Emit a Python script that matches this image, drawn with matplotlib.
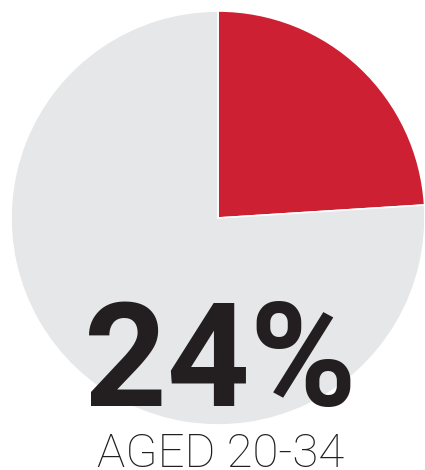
import matplotlib
matplotlib.use("Agg")
import matplotlib.pyplot as plt

# Data
labels = ["Aged 20-34", "Other"]
shares = [24, 76]
colors = ["#CE2033", "#E6E7E9"]
big_label = "24%"
caption = "AGED 20-34"

W, H = 425, 470
fig = plt.figure(figsize=(W / 100, H / 100), dpi=100)
ax = fig.add_axes([0, 0, 1, 1])
ax.set_xlim(0, W)
ax.set_ylim(0, H)
ax.axis("off")

ax.pie(shares, colors=colors, startangle=90, counterclock=False,
       center=(218, H - 218), radius=207, explode=[0.012, 0],
       wedgeprops=dict(edgecolor="white", linewidth=1.2), frame=True)
ax.set_xlim(0, W)
ax.set_ylim(0, H)
ax.set_aspect("equal")
ax.axis("off")

ax.text(220, H - 406, big_label, ha="center", va="baseline",
        fontsize=104, fontweight="bold", family=["Roboto", "DejaVu Sans"],
        color="#231F20")
ax.text(221, H - 467, caption, ha="center", va="baseline",
        fontsize=34, fontweight="light", family=["Roboto", "DejaVu Sans"],
        color="#231F20")

fig.savefig("out.png", dpi=100)
